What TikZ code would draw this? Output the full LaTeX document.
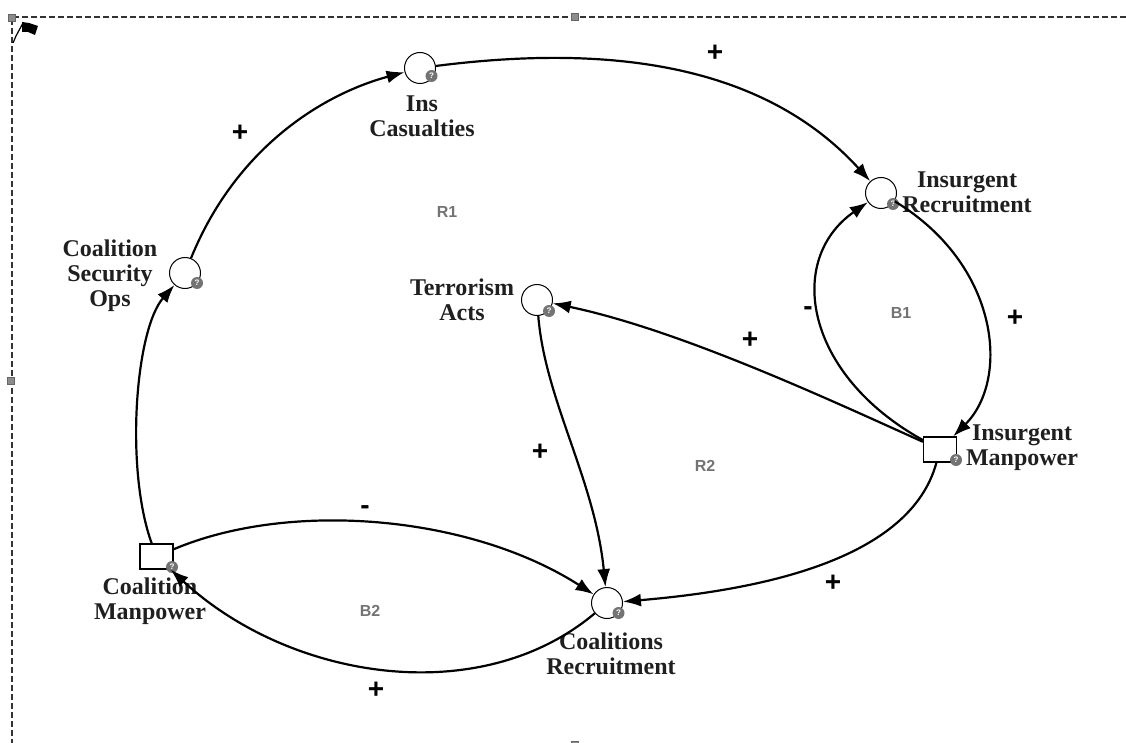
\documentclass[tikz,border=0pt]{standalone}
\usepackage{fontspec}
\setmainfont{Liberation Serif}
\newfontfamily\sansf{Liberation Sans}
\usetikzlibrary{arrows.meta}
\begin{document}
\begin{tikzpicture}[x=1pt,y=-1pt,
  aux/.style={circle,draw=black,line width=1pt,minimum size=31pt,inner sep=0pt},
  stock/.style={rectangle,draw=black,line width=1.3pt,minimum width=33pt,minimum height=25pt,inner sep=0pt},
  lbl/.style={font=\fontsize{24}{25}\selectfont\bfseries,align=center,text=black!88},
  sgn/.style={font=\sansf\fontsize{28}{28}\selectfont\bfseries},
  looplbl/.style={font=\sansf\fontsize{16}{16}\selectfont\bfseries,text=black!55},
  link/.style={line width=2.2pt,-{Latex[length=18pt,width=13pt]}},
  badge/.style={circle,fill=black!55,minimum size=12pt,inner sep=0pt,text=white,
    font=\sansf\fontsize{8}{8}\selectfont\bfseries},
  handle/.style={rectangle,fill=black!45,draw=black!60,minimum size=7pt,inner sep=0pt},
  frame/.style={draw=black!80,line width=1.2pt,dash pattern=on 6pt off 3pt}
]
\useasboundingbox (0,0) rectangle (1126,743);

% selection frame, handles and flag
\coordinate (fr-tr) at (1126,17);
\coordinate (fr-tl) at (12,17);
\coordinate (fr-bl) at (12,743);
\draw[frame] (fr-tr) -- (fr-tl) -- (fr-bl);
\node[handle] (h1) at (11.5,17.5) {};
\node[handle] (h2) at (575,17) {};
\node[handle] (h3) at (11,381) {};
\node[handle] (h4) at (575,745) {};
\draw[black,line width=1.2pt] (13,43) -- (16,36) -- (23,23);
\fill[black] (22,22) -- (29,23) -- (38,26) -- (35,35) -- (28,32) -- (22,32) -- cycle;

% variables
\node[aux] (ic) at (420,68) {};
\node[aux] (ir) at (881,193) {};
\node[aux] (cso) at (185,273) {};
\node[aux] (ta) at (537,300) {};
\node[aux] (cr) at (607,603) {};
\node[stock] (im) at (940,449.5) {};
\node[stock] (cm) at (156.5,556.5) {};

% badges
\node[badge] (ic-q) at (431.5,76) {?};
\node[badge] (ir-q) at (893,204) {?};
\node[badge] (cso-q) at (197,283) {?};
\node[badge] (ta-q) at (549,311) {?};
\node[badge] (cr-q) at (618.5,613) {?};
\node[badge] (im-q) at (956,460) {?};
\node[badge] (cm-q) at (172,567) {?};

% variable names
\node[lbl] (ic-t) at (422,116) {Ins\\Casualties};
\node[lbl] (ir-t) at (967,192) {Insurgent\\Recruitment};
\node[lbl] (cso-t) at (110,276) {Coalition\\Security\\Ops};
\node[lbl] (ta-t) at (462,300) {Terrorism\\Acts};
\node[lbl] (im-t) at (1022,448) {Insurgent\\Manpower};
\node[lbl] (cm-t) at (150,601) {Coalition\\Manpower};
\node[lbl] (cr-t) at (611,654) {Coalitions\\Recruitment};

% causal links
\draw[link] (cso) .. controls (235,150) and (320,95) .. (ic);
\draw[link] (ic) .. controls (600,45) and (760,60) .. (ir);
\draw[link] (ir) .. controls (1000,265) and (1010,380) .. (im);
\draw[link] (im) .. controls (805,375) and (785,260) .. (ir);
\draw[link] (im) .. controls (830,400) and (680,330) .. (ta);
\draw[link] (ta) .. controls (545,400) and (595,480) .. (cr);
\draw[link] (im) .. controls (910,560) and (760,590) .. (cr);
\draw[link] (cm) .. controls (125,470) and (135,330) .. (cso);
\draw[link] (cm) .. controls (290,500) and (470,515) .. (cr);
\draw[link] (cr) .. controls (480,710) and (290,680) .. (cm);

% polarities
\node[sgn] (s1) at (715,53) {+};
\node[sgn] (s2) at (240,133) {+};
\node[sgn] (s3) at (808,311) {-};
\node[sgn] (s4) at (1015,318) {+};
\node[sgn] (s5) at (750,340) {+};
\node[sgn] (s6) at (540,452) {+};
\node[sgn] (s7) at (365,510) {-};
\node[sgn] (s8) at (833,583) {+};
\node[sgn] (s9) at (376,690) {+};

% loop identifiers
\node[looplbl] (r1) at (447,212) {R1};
\node[looplbl] (b1) at (901,313) {B1};
\node[looplbl] (r2) at (705,466) {R2};
\node[looplbl] (b2) at (370,611) {B2};
\end{tikzpicture}
\end{document}
